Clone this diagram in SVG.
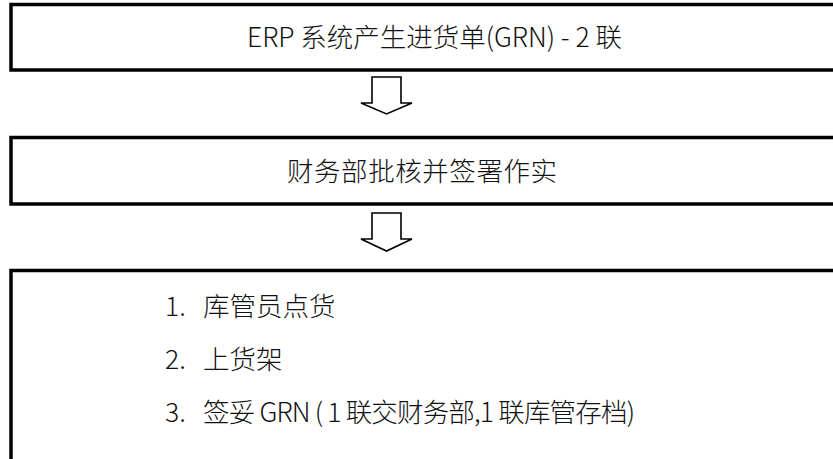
<svg xmlns="http://www.w3.org/2000/svg" width="833" height="459" viewBox="0 0 833 459">
<style>
.box{fill:#fff;stroke:#000;stroke-width:3.5}
.arrow{fill:#fff;stroke:#000;stroke-width:1.6;stroke-linejoin:miter}
text{font-family:"Noto Sans CJK SC","Noto Sans",sans-serif;font-size:26.5px;fill:#111;font-weight:300}
</style>
<rect width="833" height="459" fill="#fff"/>
<g id="node1">
<rect class="box" x="11" y="4.5" width="840" height="65.5"/>
<text x="247" y="47" textLength="375" lengthAdjust="spacing">ERP 系统产生进货单(GRN) - 2 联</text>
</g>
<g id="node2">
<rect class="box" x="11" y="137.5" width="840" height="66.5"/>
<text x="287" y="181" textLength="270" lengthAdjust="spacing">财务部批核并签署作实</text>
</g>
<g id="node3">
<rect class="box" x="11" y="270.5" width="840" height="200"/>
<text x="165" y="316">1.</text>
<text x="203" y="316">库管员点货</text>
<text x="165" y="369">2.</text>
<text x="203" y="369">上货架</text>
<text x="165" y="422">3.</text>
<text x="203" y="422" textLength="432" lengthAdjust="spacing">签妥 GRN ( 1 联交财务部,1 联库管存档)</text>
</g>
<g id="connectors">
<path class="arrow" d="M372,77 H401 V103 H412 L386.5,114 L361,103 H372 Z"/>
<path class="arrow" d="M372,213 H401 V239 H412 L386.5,251 L361,239 H372 Z"/>
</g>
</svg>
